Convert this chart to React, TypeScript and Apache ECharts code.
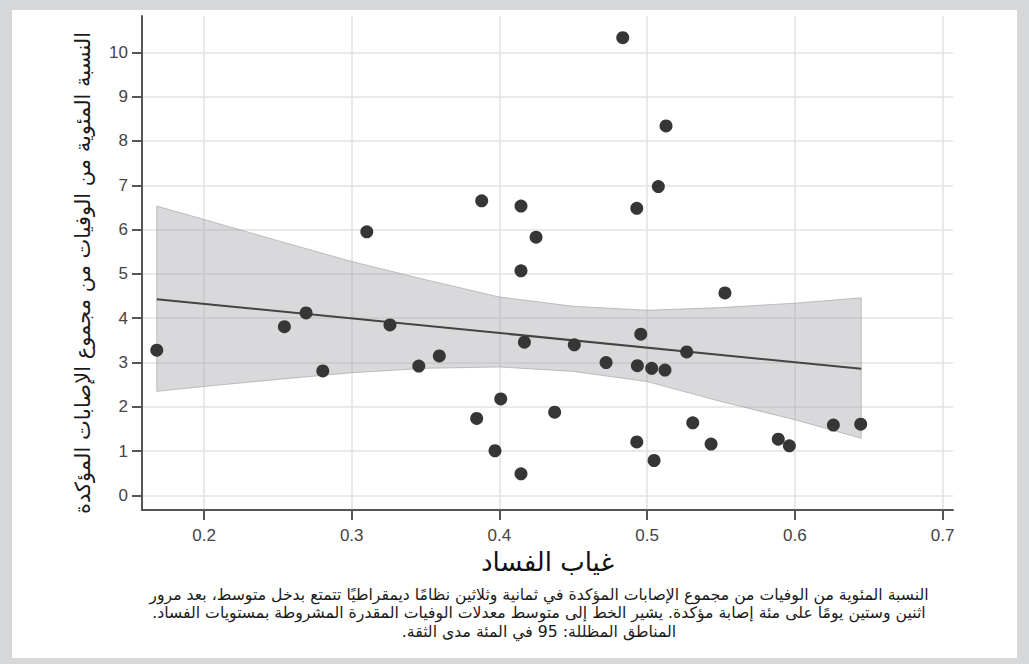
import React, { useEffect, useRef } from "react";
import * as echarts from "echarts";

// Scatter points: absence of corruption (x) vs. case fatality rate % (y)
const pointsX = [
  0.168, 0.2544, 0.2691, 0.2804, 0.3102, 0.3259, 0.3454, 0.3593, 0.3846, 0.388,
  0.397, 0.4009, 0.4146, 0.4146, 0.4146, 0.4169, 0.4248, 0.4374, 0.4507, 0.4722,
  0.4835, 0.493, 0.493, 0.4934, 0.4957, 0.5031, 0.5047, 0.5076, 0.5121, 0.5128,
  0.5268, 0.5309, 0.5433, 0.5527, 0.5888, 0.5963, 0.6261, 0.6446,
];
const pointsY = [
  3.28, 3.81, 4.12, 2.81, 5.95, 3.85, 2.92, 3.15, 1.74, 6.65,
  1.01, 2.18, 6.53, 5.07, 0.49, 3.46, 5.83, 1.88, 3.4, 3.0,
  10.33, 6.48, 1.21, 2.93, 3.64, 2.87, 0.79, 6.97, 2.83, 8.34,
  3.24, 1.64, 1.16, 4.57, 1.27, 1.12, 1.59, 1.61,
];

// Fitted line end points
const fitX = [0.168, 0.645];
const fitY = [4.43, 2.86];

// 95% confidence band
const bandX = [0.168, 0.2, 0.25, 0.3, 0.35, 0.4, 0.45, 0.5, 0.55, 0.6, 0.645];
const bandUpper = [6.53, 6.23, 5.75, 5.28, 4.87, 4.48, 4.27, 4.18, 4.24, 4.34, 4.46];
const bandLower = [2.35, 2.46, 2.62, 2.77, 2.87, 2.9, 2.8, 2.57, 2.12, 1.71, 1.29];

// Tick values
const xTicks = [0.2, 0.3, 0.4, 0.5, 0.6, 0.7];
const yTicks = [0, 1, 2, 3, 4, 5, 6, 7, 8, 9, 10];

const xTitle = "غياب الفساد";
const yTitle = "النسبة المئوية من الوفيات من مجموع الإصابات المؤكدة";
const captionLines = [
  "النسبة المئوية من الوفيات من مجموع الإصابات المؤكدة في ثمانية وثلاثين نظامًا ديمقراطيًا تتمتع بدخل متوسط، بعد مرور",
  "اثنين وستين يومًا على مئة إصابة مؤكدة. يشير الخط إلى متوسط معدلات الوفيات المقدرة المشروطة بمستويات الفساد.\u200F",
  "المناطق المظللة: 95 في المئة مدى الثقة.\u200F",
];

const ARABIC_FONT = '"DejaVu Sans", sans-serif';
const NUM_FONT = '"Liberation Sans", Arial, sans-serif';

export default function App() {
  const ref = useRef<HTMLDivElement>(null);

  useEffect(() => {
    if (!ref.current) return;
    const chart = echarts.init(ref.current, null, { renderer: "svg" });

    const scatterData = pointsX.map((x, i) => [x, pointsY[i]]);
    const fitData = fitX.map((x, i) => [x, fitY[i]]);
    const bandData = bandX.map((x, i) => [x, bandLower[i], bandUpper[i]]);

    const axisLineStyle = { color: "#555", width: 2 };

    chart.setOption({
      animation: false,
      backgroundColor: "#d6d7d9",
      grid: { left: 142, right: 76, top: 16, bottom: 154, containLabel: false },
      xAxis: {
        type: "value",
        min: 0.158,
        max: 0.7071,
        name: xTitle,
        nameLocation: "middle",
        nameGap: 51,
        nameTextStyle: {
          fontFamily: ARABIC_FONT,
          fontSize: 26,
          color: "#111",
          verticalAlign: "middle",
        },
        axisLine: { show: true, onZero: false, lineStyle: axisLineStyle },
        axisTick: { show: true, length: 10, lineStyle: axisLineStyle, customValues: xTicks },
        axisLabel: {
          customValues: xTicks,
          margin: 17,
          fontFamily: NUM_FONT,
          fontSize: 17,
          color: "#444",
          formatter: (v: number) => String(Math.round(v * 10) / 10),
        },
        splitLine: { show: true, lineStyle: { color: "#e2e2e2", width: 1.5 } },
      },
      yAxis: {
        type: "value",
        min: -0.327,
        max: 10.82,
        axisLine: { show: true, onZero: false, lineStyle: axisLineStyle },
        axisTick: { show: true, length: 10, lineStyle: axisLineStyle, customValues: yTicks },
        axisLabel: {
          customValues: yTicks,
          margin: 14,
          fontFamily: NUM_FONT,
          fontSize: 17,
          color: "#444",
        },
        splitLine: { show: true, lineStyle: { color: "#e2e2e2", width: 1.5 } },
      },
      graphic: [
        {
          type: "rect",
          z: -100,
          silent: true,
          shape: { x: 12, y: 10, width: 1005, height: 648 },
          style: { fill: "#ffffff" },
        },
        {
          type: "text",
          x: 83,
          y: 273,
          rotation: Math.PI / 2,
          style: {
            text: yTitle,
            font: `21px ${ARABIC_FONT}`,
            fill: "#1a1a1a",
            align: "center",
            verticalAlign: "middle",
          },
        },
        ...captionLines.map((t, i) => ({
          type: "text",
          x: 539,
          y: [594, 612.5, 631.5][i],
          style: {
            text: t,
            font: `15.7px ${ARABIC_FONT}`,
            fill: "#1a1a1a",
            align: "center",
            verticalAlign: "middle",
          },
        })),
      ],
      series: [
        {
          type: "custom",
          z: 1,
          silent: true,
          data: bandData,
          encode: { x: 0, y: [1, 2] },
          renderItem: (params: any, api: any) => {
            if (params.dataIndex !== 0) return null;
            const upper = bandX.map((x, i) => api.coord([x, bandUpper[i]]));
            const lower = bandX.map((x, i) => api.coord([x, bandLower[i]])).reverse();
            return {
              type: "polygon",
              shape: { points: upper.concat(lower) },
              style: {
                fill: "rgba(165,165,170,0.42)",
                stroke: "rgba(150,150,155,0.55)",
                lineWidth: 1,
              },
            };
          },
        },
        {
          type: "line",
          z: 3,
          data: fitData,
          symbol: "none",
          lineStyle: { color: "#444", width: 2 },
          silent: true,
        },
        {
          type: "scatter",
          z: 4,
          data: scatterData,
          symbolSize: 13,
          itemStyle: { color: "#363636", opacity: 1 },
        },
      ],
    });

    return () => chart.dispose();
  }, []);

  return (
    <div
      ref={ref}
      style={{ position: "fixed", left: 0, top: 0, width: 1029, height: 664 }}
    />
  );
}
